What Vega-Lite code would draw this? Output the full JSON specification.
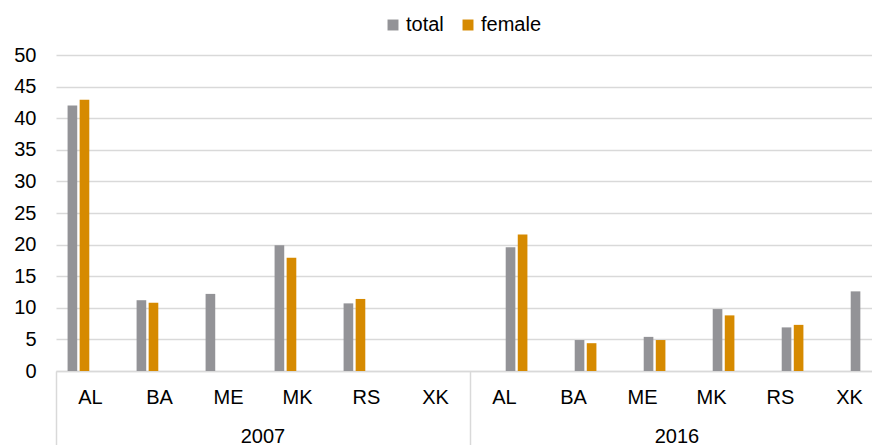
{
  "$schema": "https://vega.github.io/schema/vega-lite/v6.json",
  "autosize": {"type": "none"},
  "padding": {"left": 56, "top": 55, "right": 0, "bottom": 74},
  "width": 816,
  "height": 316,
  "config": {
    "font": "Liberation Sans",
    "view": {"stroke": null},
    "axis": {"labelFont": "Liberation Sans", "labelColor": "#000000", "labelFontSize": 20},
    "legend": {"labelFont": "Liberation Sans"}
  },
  "data": {
    "values": [
      {"year": "2007", "country": "AL", "series": "total", "category": "2007 AL", "group": "total 2007", "value": 42.0},
      {"year": "2007", "country": "AL", "series": "female", "category": "2007 AL", "group": "female 2007", "value": 42.9},
      {"year": "2007", "country": "BA", "series": "total", "category": "2007 BA", "group": "total 2007", "value": 11.2},
      {"year": "2007", "country": "BA", "series": "female", "category": "2007 BA", "group": "female 2007", "value": 10.8},
      {"year": "2007", "country": "ME", "series": "total", "category": "2007 ME", "group": "total 2007", "value": 12.2},
      {"year": "2007", "country": "MK", "series": "total", "category": "2007 MK", "group": "total 2007", "value": 19.9},
      {"year": "2007", "country": "MK", "series": "female", "category": "2007 MK", "group": "female 2007", "value": 17.9},
      {"year": "2007", "country": "RS", "series": "total", "category": "2007 RS", "group": "total 2007", "value": 10.7},
      {"year": "2007", "country": "RS", "series": "female", "category": "2007 RS", "group": "female 2007", "value": 11.4},
      {"year": "2016", "country": "AL", "series": "total", "category": "2016 AL", "group": "total 2016", "value": 19.6},
      {"year": "2016", "country": "AL", "series": "female", "category": "2016 AL", "group": "female 2016", "value": 21.6},
      {"year": "2016", "country": "BA", "series": "total", "category": "2016 BA", "group": "total 2016", "value": 4.9},
      {"year": "2016", "country": "BA", "series": "female", "category": "2016 BA", "group": "female 2016", "value": 4.4},
      {"year": "2016", "country": "ME", "series": "total", "category": "2016 ME", "group": "total 2016", "value": 5.4},
      {"year": "2016", "country": "ME", "series": "female", "category": "2016 ME", "group": "female 2016", "value": 4.9},
      {"year": "2016", "country": "MK", "series": "total", "category": "2016 MK", "group": "total 2016", "value": 9.8},
      {"year": "2016", "country": "MK", "series": "female", "category": "2016 MK", "group": "female 2016", "value": 8.8},
      {"year": "2016", "country": "RS", "series": "total", "category": "2016 RS", "group": "total 2016", "value": 6.9},
      {"year": "2016", "country": "RS", "series": "female", "category": "2016 RS", "group": "female 2016", "value": 7.3},
      {"year": "2016", "country": "XK", "series": "total", "category": "2016 XK", "group": "total 2016", "value": 12.6}
    ]
  },
  "layer": [
    {
      "mark": {"type": "bar"},
      "encoding": {
        "x": {
          "field": "category",
          "type": "nominal",
          "scale": {
            "domain": ["2007 AL", "2007 BA", "2007 ME", "2007 MK", "2007 RS", "2007 XK", "2016 AL", "2016 BA", "2016 ME", "2016 MK", "2016 RS", "2016 XK"],
            "range": [0, 828],
            "paddingInner": 0,
            "paddingOuter": 0
          },
          "axis": {
            "title": null,
            "orient": "bottom",
            "labelExpr": "split(datum.label, ' ')[1]",
            "labelAngle": 0,
            "ticks": false,
            "domainColor": "#d9d9d9",
            "domainWidth": 1.5,
            "labelPadding": 16,
            "labelFontSize": 20
          }
        },
        "xOffset": {
          "field": "group",
          "type": "nominal",
          "scale": {
            "domain": ["total 2007", "female 2007", "total 2016", "female 2016"],
            "paddingInner": 0.2,
            "paddingOuter": 0.96
          }
        },
        "y": {
          "field": "value",
          "type": "quantitative",
          "scale": {"domain": [0, 50]},
          "axis": {
            "title": null,
            "values": [0, 5, 10, 15, 20, 25, 30, 35, 40, 45, 50],
            "grid": true,
            "gridColor": "#d9d9d9",
            "gridWidth": 1.5,
            "domain": false,
            "ticks": false,
            "labelPadding": 20,
            "labelFontSize": 20
          }
        },
        "color": {
          "field": "series",
          "type": "nominal",
          "scale": {"domain": ["total", "female"], "range": ["#939397", "#D68A00"]},
          "legend": {
            "title": null,
            "orient": "none",
            "legendX": 327,
            "legendY": -40,
            "direction": "horizontal",
            "symbolType": "square",
            "symbolSize": 120,
            "symbolStrokeWidth": 0,
            "labelFontSize": 20,
            "labelColor": "#000000",
            "columnPadding": 14,
            "labelOffset": 3
          }
        }
      }
    },
    {
      "mark": {"type": "rule", "strokeOpacity": 0},
      "encoding": {
        "x": {
          "field": "year",
          "type": "nominal",
          "scale": {"domain": ["2007", "2016"], "range": [0, 828], "paddingInner": 0, "paddingOuter": 0},
          "axis": {
            "title": null,
            "orient": "bottom",
            "labels": false,
            "domain": false,
            "ticks": true,
            "bandPosition": 0,
            "tickSize": 74,
            "tickColor": "#d9d9d9",
            "tickWidth": 1.5
          }
        }
      }
    },
    {
      "mark": {"type": "rule", "strokeOpacity": 0},
      "encoding": {
        "x": {
          "field": "year",
          "type": "nominal",
          "scale": {"domain": ["2007", "2016"], "range": [0, 828], "paddingInner": 0, "paddingOuter": 0},
          "axis": {
            "title": null,
            "orient": "bottom",
            "labelAngle": 0,
            "domain": false,
            "ticks": false,
            "labelPadding": 55,
            "labelFontSize": 20
          }
        }
      }
    }
  ],
  "resolve": {"scale": {"x": "independent"}, "axis": {"x": "independent"}}
}
